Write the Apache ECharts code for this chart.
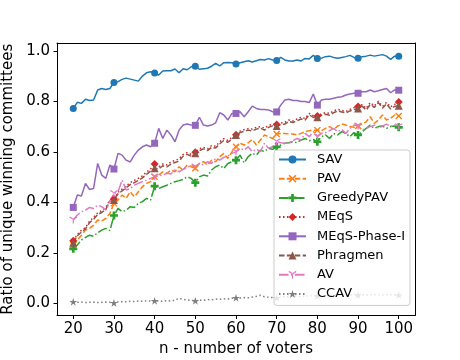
<!DOCTYPE html>
<html>
<head>
<meta charset="utf-8">
<script src="https://cdn.jsdelivr.net/npm/echarts@6/dist/echarts.min.js"></script>
<style>
html,body{margin:0;padding:0;background:#fff;}
#chart{width:460px;height:360px;}
</style>
</head>
<body>
<div id="chart"></div>
<script>
const voters = [20,21,22,23,24,25,26,27,28,29,30,31,32,33,34,35,36,37,38,39,40,41,42,43,44,45,46,47,48,49,50,51,52,53,54,55,56,57,58,59,60,61,62,63,64,65,66,67,68,69,70,71,72,73,74,75,76,77,78,79,80,81,82,83,84,85,86,87,88,89,90,91,92,93,94,95,96,97,98,99,100];
const xTicks = [20,30,40,50,60,70,80,90,100];
const yTicks = [0.0,0.2,0.4,0.6,0.8,1.0];

const SAV = [0.772,0.796,0.792,0.808,0.803,0.805,0.845,0.851,0.847,0.851,0.875,0.878,0.887,0.892,0.888,0.884,0.880,0.900,0.913,0.917,0.912,0.904,0.920,0.921,0.921,0.928,0.913,0.929,0.925,0.937,0.939,0.927,0.929,0.931,0.939,0.950,0.940,0.953,0.954,0.953,0.948,0.953,0.957,0.961,0.956,0.961,0.966,0.964,0.969,0.964,0.962,0.974,0.964,0.960,0.960,0.964,0.960,0.970,0.968,0.982,0.970,0.971,0.977,0.979,0.974,0.971,0.974,0.977,0.982,0.974,0.971,0.977,0.979,0.983,0.979,0.982,0.985,0.979,0.966,0.979,0.979];
const PAV = [0.231,0.251,0.270,0.290,0.297,0.310,0.330,0.327,0.336,0.356,0.396,0.409,0.429,0.416,0.442,0.422,0.442,0.462,0.475,0.482,0.501,0.508,0.521,0.515,0.528,0.521,0.541,0.528,0.548,0.541,0.535,0.554,0.561,0.548,0.567,0.561,0.581,0.594,0.574,0.600,0.620,0.634,0.627,0.636,0.649,0.627,0.647,0.667,0.660,0.653,0.671,0.673,0.673,0.671,0.671,0.667,0.673,0.680,0.684,0.686,0.686,0.684,0.693,0.700,0.689,0.702,0.710,0.706,0.700,0.697,0.702,0.710,0.719,0.739,0.713,0.726,0.746,0.726,0.733,0.746,0.742];
const GreedyPAV = [0.216,0.231,0.251,0.261,0.270,0.266,0.280,0.290,0.297,0.288,0.348,0.376,0.363,0.369,0.383,0.380,0.396,0.403,0.416,0.409,0.464,0.455,0.462,0.468,0.475,0.482,0.486,0.491,0.501,0.495,0.478,0.501,0.508,0.504,0.528,0.541,0.548,0.534,0.554,0.561,0.567,0.587,0.556,0.581,0.594,0.587,0.607,0.601,0.614,0.610,0.620,0.627,0.634,0.636,0.640,0.636,0.647,0.653,0.644,0.649,0.640,0.660,0.667,0.653,0.673,0.667,0.680,0.673,0.660,0.676,0.667,0.680,0.693,0.706,0.693,0.700,0.702,0.693,0.700,0.702,0.697];
const MEqS = [0.248,0.272,0.290,0.300,0.326,0.340,0.358,0.368,0.380,0.410,0.413,0.440,0.452,0.465,0.478,0.487,0.495,0.505,0.520,0.532,0.552,0.540,0.552,0.548,0.560,0.566,0.572,0.590,0.597,0.590,0.598,0.612,0.618,0.612,0.625,0.622,0.640,0.652,0.645,0.657,0.668,0.682,0.688,0.692,0.690,0.697,0.700,0.694,0.704,0.710,0.708,0.714,0.717,0.726,0.722,0.730,0.737,0.732,0.752,0.743,0.742,0.751,0.755,0.752,0.762,0.768,0.764,0.760,0.768,0.775,0.780,0.787,0.772,0.795,0.782,0.800,0.780,0.796,0.778,0.788,0.797];
const MEqSPhaseI = [0.380,0.429,0.425,0.475,0.451,0.455,0.554,0.508,0.495,0.548,0.532,0.594,0.587,0.567,0.560,0.587,0.607,0.620,0.627,0.620,0.634,0.693,0.653,0.686,0.667,0.640,0.686,0.706,0.710,0.706,0.705,0.737,0.706,0.702,0.706,0.715,0.755,0.746,0.726,0.752,0.752,0.759,0.739,0.759,0.781,0.772,0.768,0.768,0.766,0.759,0.758,0.785,0.805,0.808,0.803,0.803,0.799,0.799,0.795,0.829,0.785,0.805,0.808,0.808,0.812,0.816,0.818,0.825,0.829,0.832,0.832,0.838,0.838,0.845,0.838,0.842,0.847,0.851,0.834,0.845,0.844];
const Phragmen = [0.240,0.268,0.282,0.295,0.320,0.333,0.352,0.360,0.372,0.405,0.409,0.434,0.445,0.458,0.470,0.478,0.487,0.497,0.511,0.524,0.535,0.532,0.545,0.540,0.551,0.558,0.563,0.583,0.590,0.583,0.594,0.605,0.612,0.605,0.618,0.615,0.632,0.645,0.638,0.650,0.667,0.676,0.681,0.686,0.683,0.690,0.694,0.686,0.697,0.703,0.702,0.707,0.710,0.720,0.716,0.723,0.730,0.726,0.747,0.736,0.737,0.745,0.749,0.745,0.755,0.762,0.758,0.754,0.762,0.768,0.772,0.781,0.765,0.788,0.776,0.795,0.773,0.790,0.770,0.780,0.783];
const AV = [0.330,0.350,0.363,0.369,0.380,0.376,0.389,0.383,0.369,0.403,0.435,0.442,0.488,0.449,0.455,0.468,0.475,0.482,0.488,0.495,0.501,0.505,0.508,0.515,0.512,0.528,0.521,0.531,0.538,0.548,0.541,0.554,0.548,0.561,0.554,0.574,0.567,0.578,0.583,0.594,0.600,0.614,0.607,0.620,0.601,0.610,0.601,0.634,0.614,0.620,0.640,0.636,0.634,0.634,0.644,0.653,0.647,0.673,0.660,0.680,0.660,0.673,0.676,0.684,0.693,0.680,0.689,0.673,0.693,0.706,0.702,0.686,0.693,0.700,0.706,0.693,0.702,0.710,0.700,0.706,0.700];
const CCAV = [0.006,0.004,0.005,0.003,0.004,0.005,0.003,0.004,0.005,0.004,0.002,0.006,0.007,0.006,0.008,0.007,0.009,0.008,0.010,0.009,0.010,0.009,0.008,0.011,0.009,0.013,0.020,0.016,0.014,0.012,0.010,0.013,0.012,0.015,0.014,0.017,0.016,0.018,0.017,0.020,0.022,0.021,0.023,0.022,0.025,0.028,0.032,0.026,0.024,0.023,0.022,0.025,0.027,0.026,0.029,0.028,0.027,0.030,0.029,0.031,0.029,0.030,0.032,0.031,0.033,0.032,0.034,0.031,0.033,0.035,0.033,0.032,0.034,0.033,0.035,0.034,0.033,0.035,0.034,0.033,0.033];

const FONT = 'DejaVu Sans';
const DASHED = [5.5, 2.4];
const DASHDOT = [9.6, 2.4, 1.5, 2.4];
const DOTTED = [1.5, 2.5];

const SYM_X = 'path://M0,0.14 L0.14,0 L0.5,0.36 L0.86,0 L1,0.14 L0.64,0.5 L1,0.86 L0.86,1 L0.5,0.64 L0.14,1 L0,0.86 L0.36,0.5 Z';
const SYM_PLUS = 'path://M0.33,0 L0.67,0 L0.67,0.33 L1,0.33 L1,0.67 L0.67,0.67 L0.67,1 L0.33,1 L0.33,0.67 L0,0.67 L0,0.33 L0.33,0.33 Z';
const SYM_STAR = 'path://M0.5,0 L0.6123,0.3455 L0.9755,0.3455 L0.6816,0.559 L0.7939,0.9045 L0.5,0.691 L0.2061,0.9045 L0.3184,0.559 L0.0245,0.3455 L0.3877,0.3455 Z';
const SYM_TRI = 'path://M0.43,0.5 L0.57,0.5 L0.57,1 L0.43,1 Z M0.535,0.4394 L0.102,0.1894 L0.032,0.3106 L0.465,0.5606 Z M0.465,0.4394 L0.898,0.1894 L0.968,0.3106 L0.535,0.5606 Z';

const specs = [
  {name:'SAV', data:SAV, color:'#1f77b4', type:'solid', symbol:'circle', size:7},
  {name:'PAV', data:PAV, color:'#ff7f0e', type:DASHED, symbol:SYM_X, size:7},
  {name:'GreedyPAV', data:GreedyPAV, color:'#2ca02c', type:DASHDOT, symbol:SYM_PLUS, size:8},
  {name:'MEqS', data:MEqS, color:'#d62728', type:DOTTED, symbol:'diamond', size:8},
  {name:'MEqS-Phase-I', data:MEqSPhaseI, color:'#9467bd', type:'solid', symbol:'rect', size:7},
  {name:'Phragmen', data:Phragmen, color:'#8c564b', type:DASHED, symbol:'triangle', size:8},
  {name:'AV', data:AV, color:'#e377c2', type:DASHDOT, symbol:SYM_TRI, size:8},
  {name:'CCAV', data:CCAV, color:'#7f7f7f', type:DOTTED, symbol:SYM_STAR, size:8}
];

const series = specs.map(s => ({
  name: s.name,
  type: 'line',
  xAxisIndex: 0,
  yAxisIndex: 0,
  data: voters.map((n, i) => [n, s.data[i]]),
  symbol: s.symbol,
  symbolKeepAspect: true,
  symbolSize: (val) => (val[0] % 10 === 0 ? s.size : 0),
  showSymbol: true,
  lineStyle: {color: s.color, width: 1.5, type: s.type},
  itemStyle: {color: s.color, borderWidth: 0},
  emphasis: {disabled: true},
  animation: false
}));

const axisCommonLine = {show: true, onZero: false, lineStyle: {color: '#000', width: 1}};

const chart = echarts.init(document.getElementById('chart'), null, {renderer: 'canvas'});
chart.setOption({
  backgroundColor: '#ffffff',
  animation: false,
  textStyle: {fontFamily: FONT},
  grid: {left: 57, top: 43, width: 358, height: 272.5, containLabel: false, outerBoundsMode: 'none'},
  legend: {
    orient: 'vertical',
    left: 274, top: 150,
    data: specs.map(s => s.name),
    itemWidth: 27, itemHeight: 10, itemGap: 6.2,
    padding: [3, 5, 5, 4],
    backgroundColor: 'rgba(255,255,255,0.8)',
    borderColor: '#cccccc', borderWidth: 1, borderRadius: 3,
    textStyle: {fontFamily: FONT, fontSize: 13, color: '#000', padding: [0,0,0,6]},
    selectedMode: false
  },
  xAxis: [{
    type: 'value', position: 'bottom', min: 16, max: 104,
    name: 'n - number of voters', nameLocation: 'middle', nameGap: 26.5,
    nameTextStyle: {fontFamily: FONT, fontSize: 15, color: '#000'},
    axisLine: axisCommonLine,
    axisTick: {show: true, inside: false, length: 3.5, lineStyle: {color: '#000', width: 1}, customValues: xTicks},
    axisLabel: {show: true, margin: 6, fontFamily: FONT, fontSize: 15, color: '#000', customValues: xTicks, formatter: v => String(v)},
    splitLine: {show: false}
  }, {
    type: 'value', position: 'top', min: 16, max: 104,
    axisLine: axisCommonLine, axisTick: {show: false}, axisLabel: {show: false}, splitLine: {show: false}
  }],
  yAxis: [{
    type: 'value', position: 'left', min: -0.048, max: 1.031,
    name: 'Ratio of unique winning committees', nameLocation: 'middle', nameGap: 33.5, nameRotate: 90,
    nameTextStyle: {fontFamily: FONT, fontSize: 15, color: '#000'},
    axisLine: axisCommonLine,
    axisTick: {show: true, inside: false, length: 3.5, lineStyle: {color: '#000', width: 1}, customValues: yTicks},
    axisLabel: {show: true, margin: 7, fontFamily: FONT, fontSize: 15, color: '#000', customValues: yTicks, formatter: v => v.toFixed(1)},
    splitLine: {show: false}
  }, {
    type: 'value', position: 'right', min: -0.048, max: 1.031,
    axisLine: axisCommonLine, axisTick: {show: false}, axisLabel: {show: false}, splitLine: {show: false}
  }],
  series: series
});
</script>
</body>
</html>
